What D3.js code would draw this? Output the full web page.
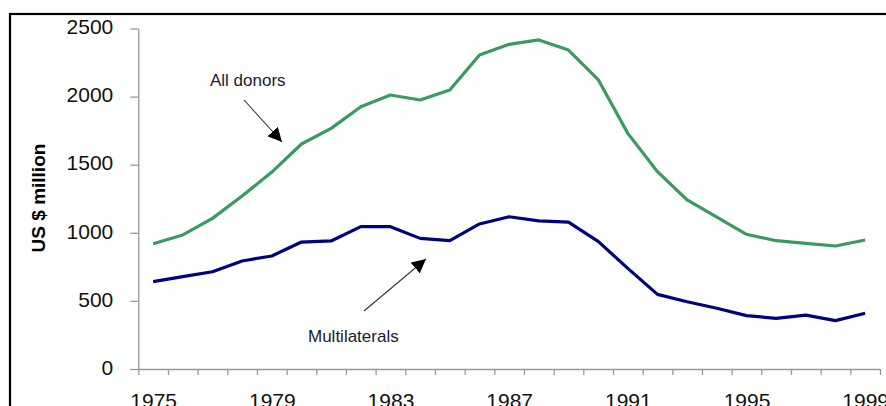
<!DOCTYPE html>
<meta charset="utf-8">
<style>
  body { margin: 0; background: #fff; }
  .tick text { font: 21px Arial, "Liberation Sans", sans-serif; fill: #111; }
  .axis path, .axis line { stroke: #999; stroke-width: 1.3px; }
  .line { fill: none; stroke-width: 3.2px; stroke-linejoin: round; }
  .note { font: 17px Arial, "Liberation Sans", sans-serif; fill: #1a1a33; }
  .ytitle { font: bold 19px Arial, "Liberation Sans", sans-serif; fill: #000; }
</style>
<svg width="886" height="406"></svg>
<script src="https://cdn.jsdelivr.net/npm/d3@7"></script>
<script>
  const years = d3.range(1975, 2000);
  const allDonors = [920, 984, 1106, 1270, 1446, 1652, 1767, 1926, 2012, 1975,
    2048, 2305, 2384, 2416, 2342, 2125, 1730, 1449, 1241, 1115,
    989, 942, 923, 903, 947];
  const multilaterals = [641, 678, 714, 793, 830, 932, 940, 1045, 1045, 959,
    942, 1065, 1118, 1087, 1079, 937, 739, 548, 494, 446,
    392, 372, 396, 355, 409];
  const yTicks = [0, 500, 1000, 1500, 2000, 2500];
  const xLabels = [1975, 1979, 1983, 1987, 1991, 1995, 1999];

  const svg = d3.select("svg");

  // outer frame (runs off the right and bottom edge)
  svg.append("rect")
    .attr("x", 10).attr("y", 14)
    .attr("width", 950).attr("height", 500)
    .attr("fill", "none").attr("stroke", "#000").attr("stroke-width", 2.2);

  const x = d3.scaleLinear().domain([1974.5, 1999.5]).range([138.3, 880]);
  const y = d3.scaleLinear().domain([0, 2500]).range([369, 28.5]);

  // y axis
  const yAxis = svg.append("g")
    .attr("class", "axis")
    .attr("transform", "translate(138.3,0)")
    .call(d3.axisLeft(y).tickValues(yTicks).tickFormat(d3.format("d"))
      .tickSize(8).tickPadding(17).tickSizeOuter(0));
  yAxis.selectAll(".tick text").attr("dy", "0.25em");

  // x axis: ticks at category boundaries, labels centred in categories
  const edges = d3.range(1974.5, 2000, 1);
  svg.append("g")
    .attr("class", "axis")
    .attr("transform", "translate(0,369)")
    .call(d3.axisBottom(x).tickValues(edges).tickFormat("").tickSize(6).tickSizeOuter(0));
  const xl = svg.append("g")
    .attr("class", "axis")
    .attr("transform", "translate(0,369)")
    .call(d3.axisBottom(x).tickValues(xLabels).tickFormat(d3.format("d")).tickSize(0).tickPadding(24));
  xl.select(".domain").remove();

  // y title
  svg.append("text")
    .attr("class", "ytitle")
    .attr("transform", "translate(45,198) rotate(-90)")
    .attr("text-anchor", "middle")
    .text("US $ million");

  const line = d3.line().x((d, i) => x(years[i])).y(d => y(d));

  svg.append("path").datum(allDonors)
    .attr("class", "line").attr("stroke", "#3a9a62").attr("d", line);
  svg.append("path").datum(multilaterals)
    .attr("class", "line").attr("stroke", "#000080").attr("d", line);

  // annotations
  svg.append("defs").append("marker")
    .attr("id", "head")
    .attr("viewBox", "0 0 10 10")
    .attr("refX", 10).attr("refY", 5)
    .attr("markerWidth", 14).attr("markerHeight", 14)
    .attr("markerUnits", "userSpaceOnUse")
    .attr("orient", "auto")
    .append("path").attr("d", "M0,0 L10,5 L0,10 Z").attr("fill", "#000");

  svg.append("text").attr("class", "note").attr("x", 210).attr("y", 86).text("All donors");
  svg.append("line")
    .attr("x1", 244).attr("y1", 100).attr("x2", 282).attr("y2", 142)
    .attr("stroke", "#333").attr("stroke-width", 1.1).attr("marker-end", "url(#head)");

  svg.append("text").attr("class", "note").attr("x", 308).attr("y", 342).text("Multilaterals");
  svg.append("line")
    .attr("x1", 364).attr("y1", 311).attr("x2", 426).attr("y2", 259)
    .attr("stroke", "#333").attr("stroke-width", 1.1).attr("marker-end", "url(#head)");
</script>
